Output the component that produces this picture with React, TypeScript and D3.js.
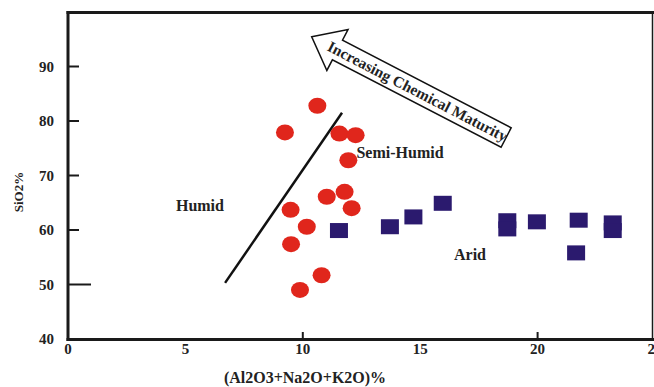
import React from "react";
import * as d3 from "d3";

const humidX = [10.62, 9.24, 11.56, 12.25, 11.94, 11.02, 11.78, 12.08, 9.48, 10.17, 9.5, 10.8, 9.88];
const humidY = [82.8, 77.9, 77.7, 77.4, 72.8, 66.1, 67.0, 64.0, 63.7, 60.6, 57.4, 51.7, 49.0];
const aridX = [11.54, 13.71, 14.71, 15.96, 18.71, 18.71, 19.97, 21.75, 21.64, 23.2, 23.2];
const aridY = [59.9, 60.6, 62.4, 64.9, 61.7, 60.2, 61.5, 61.8, 55.8, 61.3, 59.9];
const xTicks = [0, 5, 10, 15, 20, 25];
const yTicks = [40, 50, 60, 70, 80, 90];
const boundaryX = [6.69, 11.67];
const boundaryY = [50.3, 81.5];
const regionLabels = ["Humid", "Semi-Humid", "Arid"];
const regionX = [5.62, 14.14, 17.12];
const regionY = [64.6, 74.3, 55.6];

const RED = "#e0261c";
const NAVY = "#2b1a6e";
const FONT = "'Liberation Serif', 'Times New Roman', serif";

export default function App() {
  const W = 654, H = 387;
  const x = d3.scaleLinear().domain([0, 25]).range([68, 655]);
  const y = d3.scaleLinear().domain([40, 100]).range([339, 12]);
  const line = d3.line<number>().x((d) => x(boundaryX[d])).y((d) => y(boundaryY[d]));

  // arrow geometry (local coordinates, tip at origin)
  const arrowPts: [number, number][] = [
    [0, 0], [29, -23], [29, -11], [219, -11], [219, 11], [29, 11], [29, 23],
  ];
  const arrowPath = "M" + arrowPts.map((p) => p.join(",")).join("L") + "Z";

  return (
    <svg width={W} height={H} style={{ position: "absolute", left: 0, top: 0, background: "#fff" }}
      fontFamily={FONT}>
      <rect x={0} y={0} width={W} height={H} fill="#fff" />
      {/* frame */}
      <line x1={66.5} x2={654} y1={12.5} y2={12.5} stroke="#1a1a1a" strokeWidth={3} />
      <line x1={652.5} x2={652.5} y1={12} y2={340} stroke="#1a1a1a" strokeWidth={1.5} />
      <line x1={68} x2={68} y1={11} y2={341} stroke="#1a1a1a" strokeWidth={3} />
      <line x1={66.5} x2={654} y1={339.5} y2={339.5} stroke="#1a1a1a" strokeWidth={3} />
      {/* y ticks */}
      {yTicks.filter((t) => t !== 40).map((t) => (
        <line key={"yt" + t} x1={68} x2={t === 50 ? 91 : 79} y1={y(t)} y2={y(t)} stroke="#1a1a1a" strokeWidth={2} />
      ))}
      {yTicks.map((t) => (
        <text key={"yl" + t} x={54} y={y(t)} dy="0.35em" textAnchor="end" fontSize={15} fontWeight="bold" fill="#222">{t}</text>
      ))}
      {/* x ticks */}
      {[10, 20].map((t) => (
        <line key={"xt" + t} x1={x(t)} x2={x(t)} y1={339} y2={332} stroke="#1a1a1a" strokeWidth={2} />
      ))}
      {xTicks.map((t) => (
        <text key={"xl" + t} x={x(t)} y={354} textAnchor="middle" fontSize={15} fontWeight="bold" fill="#222">{t}</text>
      ))}
      {/* axis titles */}
      <text x={305} y={383} textAnchor="middle" fontSize={16} fontWeight="bold" fill="#222">(Al2O3+Na2O+K2O)%</text>
      <text transform="translate(23,192) rotate(-90)" textAnchor="middle" fontSize={13} fontWeight="bold" fill="#222">SiO2%</text>
      {/* boundary line */}
      <path d={line([0, 1]) || ""} stroke="#111" strokeWidth={2.5} fill="none" />
      {/* arrow */}
      <g transform="translate(311.7,36.7) rotate(27.4)">
        <path d={arrowPath} fill="#fff" stroke="#111" strokeWidth={1.5} />
        <text x={19} y={0} dy="0.33em" fontSize={15.5} fontWeight="bold" fill="#222">Increasing Chemical Maturity</text>
      </g>
      {/* region labels */}
      {regionLabels.map((l, i) => (
        <text key={l} x={x(regionX[i])} y={y(regionY[i])} dy="0.35em" textAnchor="middle" fontSize={16} fontWeight="bold" fill="#222">{l}</text>
      ))}
      {/* humid points */}
      {humidX.map((v, i) => (
        <ellipse key={"h" + i} cx={x(v)} cy={y(humidY[i])} rx={9} ry={8} fill={RED} />
      ))}
      {/* arid points */}
      {aridX.map((v, i) => (
        <rect key={"a" + i} x={x(v) - 9} y={y(aridY[i]) - 7.5} width={18} height={15} fill={NAVY} />
      ))}
    </svg>
  );
}
